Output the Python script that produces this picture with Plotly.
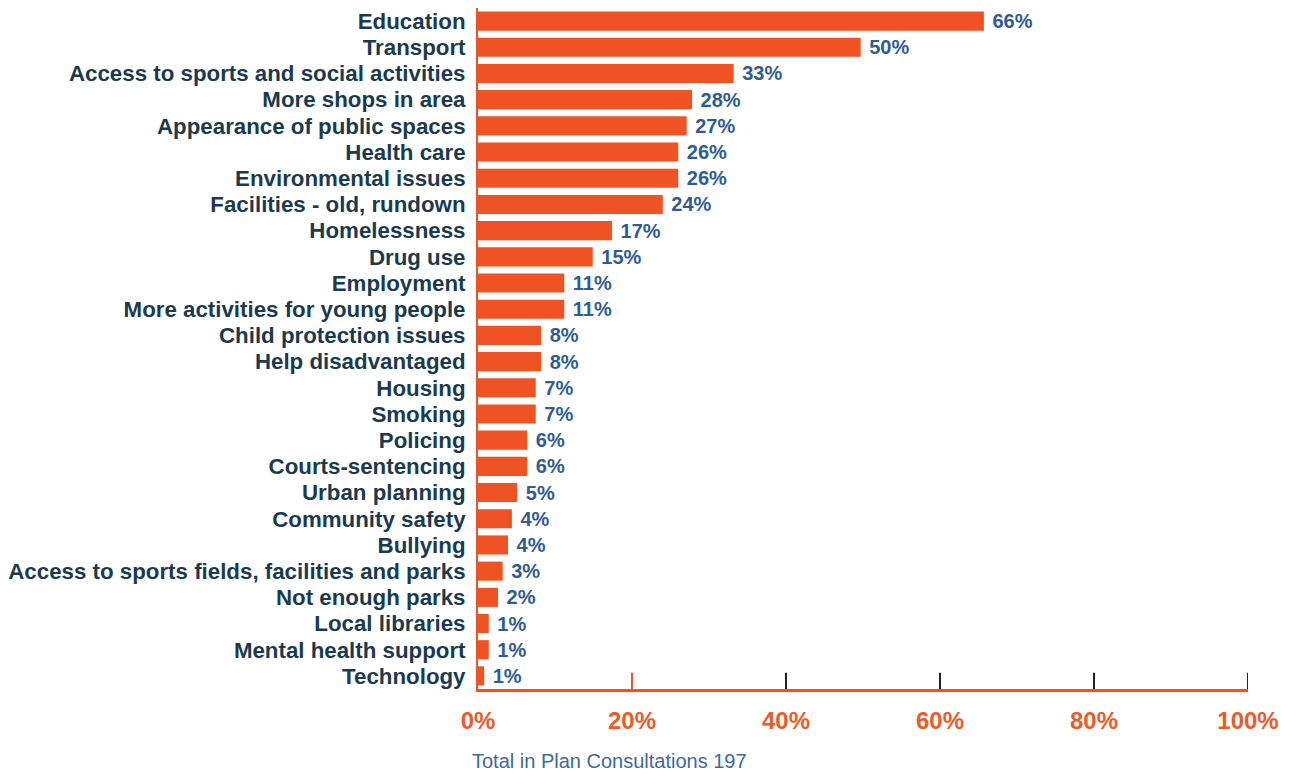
import plotly.graph_objects as go

categories = [
    "Education", "Transport", "Access to sports and social activities", "More shops in area",
    "Appearance of public spaces", "Health care", "Environmental issues", "Facilities - old, rundown",
    "Homelessness", "Drug use", "Employment", "More activities for young people",
    "Child protection issues", "Help disadvantaged", "Housing", "Smoking", "Policing",
    "Courts-sentencing", "Urban planning", "Community safety", "Bullying",
    "Access to sports fields, facilities and parks", "Not enough parks", "Local libraries",
    "Mental health support", "Technology",
]
values = [65.7, 49.7, 33.2, 27.8, 27.1, 26.0, 26.0, 24.0, 17.4, 14.9, 11.2, 11.2,
          8.2, 8.2, 7.5, 7.5, 6.4, 6.4, 5.1, 4.4, 3.9, 3.2, 2.6, 1.4, 1.4, 0.8]
value_labels = ["66%", "50%", "33%", "28%", "27%", "26%", "26%", "24%", "17%", "15%", "11%", "11%",
                "8%", "8%", "7%", "7%", "6%", "6%", "5%", "4%", "4%", "3%", "2%", "1%", "1%", "1%"]
tick_values = [0, 20, 40, 60, 80, 100]
tick_labels = ["0%", "20%", "40%", "60%", "80%", "100%"]
footer = "Total in Plan Consultations 197"

BAR = "#F05323"
NAVY = "#1A3A50"
BLUE = "#2E5C96"
ORANGE_TXT = "#F05A28"

fig = go.Figure()
fig.add_trace(go.Bar(
    x=values, y=categories, orientation="h",
    marker=dict(color=BAR, line=dict(width=0)),
    text=[" " + t for t in value_labels], textposition="outside", cliponaxis=False,
    constraintext="none",
    textfont=dict(family="Liberation Sans, Arial", size=20, color=BLUE, weight="bold"),
))

shapes = []
for tv in tick_values[1:]:
    shapes.append(dict(type="line", xref="x", yref="paper", x0=tv, x1=tv, y0=0, y1=0.024,
                       line=dict(color=BAR if tv == 20 else "#222222", width=2)))

fig.update_layout(
    width=1290, height=774,
    margin=dict(l=470, r=50, t=0, b=93),
    paper_bgcolor="white", plot_bgcolor="white",
    showlegend=False, bargap=0.27,
    font=dict(family="Liberation Sans, Arial"),
    shapes=shapes,
    xaxis=dict(range=[0, 100], tickvals=tick_values, ticktext=tick_labels,
               showgrid=False, zeroline=False, showline=True, linecolor=BAR, linewidth=3,
               ticks="", ticklabelstandoff=8,
               tickfont=dict(family="Liberation Sans, Arial", size=24, color=ORANGE_TXT, weight="bold")),
    yaxis=dict(categoryorder="array", categoryarray=categories[::-1], showgrid=False,
               tickmode="array", tickvals=categories, ticktext=categories,
               zeroline=False, showline=True, linecolor=BAR, linewidth=2, ticks="",
               ticklabelstandoff=6,
               tickfont=dict(family="Liberation Sans, Arial", size=22.3, color=NAVY, weight="bold")),
    annotations=[dict(text=footer, xref="paper", yref="paper", x=0.0, y=-0.105,
                      xanchor="left", yanchor="middle", showarrow=False, xshift=-8,
                      font=dict(family="Liberation Sans, Arial", size=20, color="#3A6AA3"))],
)

fig.write_html("out.html")
